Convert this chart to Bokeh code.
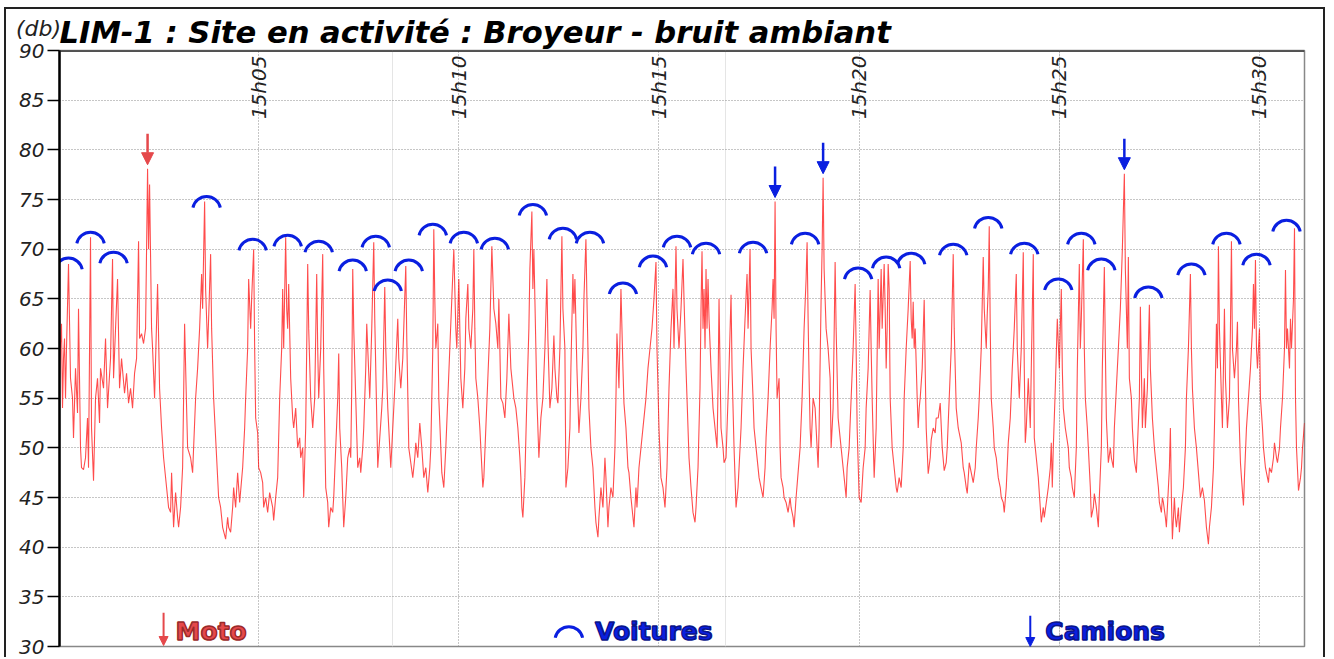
from math import radians, pi
from bokeh.plotting import figure
from bokeh.layouts import column
from bokeh.models import (Range1d, FixedTicker, Grid, Span, Arrow, NormalHead,
                          ColumnDataSource, Div)
from bokeh.core.properties import value
from bokeh.embed import file_html
from bokeh.resources import INLINE

# ---------------- data ----------------
TITLE = "LIM-1 : Site en activité : Broyeur - bruit ambiant"
UNIT = "(db)"
tick_sec = [300, 600, 900, 1200, 1500, 1800]          # seconds after 15h00
tick_labels = ["15h05", "15h10", "15h15", "15h20", "15h25", "15h30"]
y_ticks = [30, 35, 40, 45, 50, 55, 60, 65, 70, 75, 80, 85, 90]

# sound level trace (seconds after 15h00, dB)
t_sec = [
    1.5, 3, 4.5, 6, 7.5, 9, 10.5, 12, 15, 18,
    21, 22.5, 25.5, 28.5, 30, 33, 34.5, 37.5, 40.5, 43.5,
    45, 48, 49.5, 52.5, 55.5, 58.5, 61.5, 63, 67.5, 70.5,
    73.5, 78, 81, 82.5, 85.5, 88.5, 91.5, 94.5, 99, 102,
    105, 108, 111, 114, 117, 120, 121.5, 124.5, 127.5, 130.5,
    133.5, 135, 136.5, 139.5, 141, 144, 148.5, 151.5, 154.5, 157.5,
    162, 165, 168, 169.5, 172.5, 175.5, 178.5, 180, 183, 186,
    187.5, 189, 192, 193.5, 198, 201, 205.5, 208.5, 211.5, 214.5,
    216, 219, 220.5, 223.5, 225, 228, 229.5, 232.5, 237, 240,
    243, 246, 250.5, 253.5, 255, 258, 261, 262.5, 265.5, 268.5,
    271.5, 276, 279, 280.5, 283.5, 285, 288, 289.5, 292.5, 294,
    295.5, 298.5, 300, 303, 306, 307.5, 310.5, 313.5, 316.5, 321,
    322.5, 325.5, 328.5, 331.5, 334.5, 336, 337.5, 340.5, 342, 343.5,
    345, 348, 351, 352.5, 355.5, 358.5, 361.5, 363, 366, 367.5,
    370.5, 372, 373.5, 375, 378, 381, 384, 387, 388.5, 390,
    393, 396, 397.5, 400.5, 403.5, 405, 408, 411, 412.5, 415.5,
    418.5, 420, 421.5, 424.5, 427.5, 430.5, 433.5, 436.5, 438, 439.5,
    441, 442.5, 445.5, 448.5, 451.5, 453, 456, 457.5, 460.5, 462,
    463.5, 466.5, 469.5, 472.5, 474, 475.5, 478.5, 481.5, 484.5, 486,
    489, 490.5, 493.5, 496.5, 498, 501, 504, 508.5, 510, 513,
    516, 520.5, 522, 525, 528, 531, 534, 535.5, 538.5, 541.5,
    544.5, 547.5, 550.5, 553.5, 556.5, 558, 559.5, 561, 562.5, 564,
    565.5, 568.5, 570, 573, 574.5, 577.5, 580.5, 583.5, 586.5, 589.5,
    592.5, 595.5, 597, 600, 603, 606, 609, 610.5, 613.5, 615,
    618, 621, 622.5, 624, 625.5, 628.5, 631.5, 634.5, 636, 637.5,
    640.5, 643.5, 646.5, 649.5, 652.5, 655.5, 658.5, 660, 663, 666,
    669, 672, 675, 678, 682.5, 685.5, 688.5, 691.5, 693, 694.5,
    696, 699, 702, 705, 706.5, 709.5, 711, 712.5, 715.5, 717,
    720, 723, 726, 729, 732, 733.5, 736.5, 739.5, 742.5, 744,
    747, 748.5, 751.5, 754.5, 756, 759, 760.5, 763.5, 766.5, 768,
    771, 772.5, 774, 777, 780, 783, 786, 787.5, 790.5, 792,
    793.5, 795, 798, 801, 804, 805.5, 808.5, 810, 813, 816,
    819, 820.5, 823.5, 825, 828, 831, 834, 835.5, 837, 840,
    843, 844.5, 846, 847.5, 850.5, 853.5, 855, 858, 859.5, 862.5,
    865.5, 867, 870, 873, 876, 879, 880.5, 883.5, 886.5, 889.5,
    892.5, 895.5, 897, 900, 903, 906, 909, 912, 915, 918,
    921, 922.5, 925.5, 927, 930, 933, 936, 937.5, 940.5, 942,
    945, 948, 951, 954, 955.5, 958.5, 961.5, 963, 964.5, 966,
    967.5, 969, 970.5, 972, 973.5, 975, 978, 981, 984, 987,
    988.5, 990, 991.5, 993, 996, 997.5, 1000.5, 1002, 1005, 1008,
    1009.5, 1012.5, 1015.5, 1018.5, 1020, 1023, 1026, 1029, 1032, 1033.5,
    1036.5, 1038, 1041, 1042.5, 1045.5, 1050, 1053, 1056, 1059, 1060.5,
    1063.5, 1066.5, 1069.5, 1071, 1072.5, 1074, 1075.5, 1077, 1080, 1081.5,
    1083, 1086, 1087.5, 1090.5, 1093.5, 1096.5, 1098, 1101, 1102.5, 1105.5,
    1108.5, 1111.5, 1114.5, 1117.5, 1120.5, 1122, 1123.5, 1125, 1126.5, 1128,
    1131, 1134, 1137, 1138.5, 1140, 1143, 1144.5, 1146, 1147.5, 1150.5,
    1153.5, 1156.5, 1158, 1161, 1164, 1165.5, 1168.5, 1171.5, 1173, 1176,
    1179, 1180.5, 1182, 1185, 1188, 1191, 1194, 1195.5, 1197, 1200,
    1203, 1206, 1209, 1210.5, 1213.5, 1216.5, 1218, 1219.5, 1222.5, 1225.5,
    1228.5, 1230, 1233, 1234.5, 1237.5, 1239, 1240.5, 1242, 1243.5, 1245,
    1246.5, 1249.5, 1252.5, 1255.5, 1257, 1260, 1263, 1266, 1267.5, 1270.5,
    1273.5, 1276.5, 1278, 1279.5, 1281, 1282.5, 1284, 1287, 1288.5, 1290,
    1291.5, 1294.5, 1297.5, 1299, 1300.5, 1303.5, 1306.5, 1308, 1311, 1314,
    1315.5, 1318.5, 1321.5, 1324.5, 1327.5, 1330.5, 1332, 1335, 1338, 1341,
    1342.5, 1344, 1345.5, 1348.5, 1353, 1356, 1357.5, 1360.5, 1362, 1365,
    1368, 1371, 1374, 1375.5, 1378.5, 1380, 1383, 1386, 1387.5, 1390.5,
    1392, 1393.5, 1395, 1396.5, 1398, 1401, 1402.5, 1405.5, 1408.5, 1411.5,
    1413, 1416, 1417.5, 1420.5, 1423.5, 1426.5, 1429.5, 1432.5, 1435.5, 1437,
    1440, 1443, 1446, 1447.5, 1449, 1450.5, 1453.5, 1456.5, 1458, 1461,
    1462.5, 1465.5, 1468.5, 1471.5, 1473, 1476, 1477.5, 1480.5, 1483.5, 1486.5,
    1488, 1489.5, 1491, 1494, 1497, 1500, 1503, 1504.5, 1506, 1509,
    1513.5, 1515, 1518, 1519.5, 1522.5, 1525.5, 1527, 1530, 1531.5, 1533,
    1536, 1537.5, 1539, 1542, 1543.5, 1546.5, 1548, 1551, 1552.5, 1555.5,
    1558.5, 1560, 1563, 1564.5, 1567.5, 1569, 1570.5, 1573.5, 1576.5, 1578,
    1581, 1582.5, 1585.5, 1588.5, 1591.5, 1594.5, 1597.5, 1599, 1602, 1603.5,
    1605, 1608, 1609.5, 1612.5, 1615.5, 1617, 1620, 1621.5, 1623, 1624.5,
    1627.5, 1629, 1632, 1635, 1636.5, 1639.5, 1642.5, 1645.5, 1648.5, 1650,
    1653, 1654.5, 1656, 1659, 1660.5, 1662, 1665, 1666.5, 1668, 1669.5,
    1672.5, 1674, 1675.5, 1678.5, 1680, 1683, 1686, 1689, 1690.5, 1693.5,
    1696.5, 1698, 1699.5, 1702.5, 1705.5, 1708.5, 1711.5, 1714.5, 1717.5, 1720.5,
    1723.5, 1725, 1728, 1731, 1732.5, 1734, 1735.5, 1737, 1738.5, 1740,
    1743, 1744.5, 1747.5, 1749, 1752, 1755, 1756.5, 1758, 1759.5, 1762.5,
    1765.5, 1767, 1768.5, 1771.5, 1773, 1776, 1777.5, 1780.5, 1783.5, 1786.5,
    1789.5, 1791, 1792.5, 1794, 1795.5, 1797, 1798.5, 1800, 1801.5, 1804.5,
    1806, 1809, 1812, 1813.5, 1815, 1818, 1821, 1822.5, 1825.5, 1827,
    1830, 1831.5, 1834.5, 1837.5, 1839, 1840.5, 1842, 1845, 1846.5, 1848,
    1851, 1852.5, 1854, 1855.5, 1858.5, 1861.5, 1863, 1864.5, 1867.5,
]
db = [
    57, 60.5, 62.5, 54, 59, 61, 55, 60, 68.5, 57,
    55, 51, 58, 53.5, 64, 50, 48, 47.8, 49, 53,
    48, 71.2, 52, 46.7, 55, 57, 52.5, 58, 56, 61,
    54, 59, 69, 57, 62, 67, 56, 59, 55.5, 57.5,
    54.5, 56, 54, 57.5, 59, 70.8, 61, 61.5, 60.5, 62,
    78.1, 70, 76.5, 62, 60, 55, 66.5, 56, 52, 49,
    46, 44, 43.5, 47.5, 42, 45.5, 43, 42, 44, 48,
    55, 62.5, 54, 50, 49, 47.5, 55, 58, 62, 67.5,
    64, 74.8, 66, 60, 63, 69.5, 62, 55, 49, 45,
    44, 42, 40.8, 43, 42, 41.5, 44, 46, 44, 47.5,
    44.5, 48, 52, 55, 60, 67, 62, 65, 70, 60,
    53, 51.5, 48, 47.5, 46.5, 44, 45, 43.5, 45.5, 44,
    42.7, 45, 47, 55, 60, 66, 60, 71.2, 64, 62,
    66.5, 57, 53, 52, 54, 50, 51, 49, 50, 45,
    52, 60, 68.5, 62, 55, 52, 55, 67.5, 60, 55,
    60, 69.5, 58, 46, 44.5, 42, 44, 43.5, 45, 50,
    55, 59.5, 52, 48, 42, 45, 49, 50, 49, 56,
    68, 62, 55, 48, 49, 47.5, 50, 52, 58, 62.5,
    60, 55, 62, 70.7, 63, 58, 48, 51, 54, 56,
    66.2, 60, 54, 50, 48, 52, 56, 63, 59, 56,
    59, 68.3, 61, 50, 48.5, 47, 49, 50.5, 49, 52.5,
    50, 47, 48, 45.5, 48, 50, 55, 60, 72, 65,
    60, 62.5, 55, 50, 47.5, 46, 50, 55, 60, 65,
    70, 62, 60, 67, 57, 54, 58, 63, 66.5, 62,
    60, 64, 70, 62, 57, 55, 52, 48, 46, 47,
    52, 57, 62, 70.3, 64, 62.5, 60, 65, 55, 54.5,
    53, 57, 63.5, 58, 55, 54, 52, 49, 47, 44,
    43, 47, 55, 62, 68, 73.8, 66, 70, 60, 55,
    49, 53, 55, 60, 67, 61, 54, 56, 61.3, 58,
    55, 54.5, 60, 71.3, 64, 60, 46, 48, 52, 58,
    67.5, 63.5, 67, 58, 51.5, 55, 60, 65, 71, 65,
    60, 54, 50, 48, 44, 42.5, 41, 43, 46, 44,
    49, 47, 42, 44, 46, 45, 50, 55, 61.5, 56,
    66, 62, 58, 54.5, 52, 48, 47.5, 45, 44, 42,
    46, 44, 48, 50, 52, 54, 55, 58, 60, 62,
    65, 68.7, 60, 52, 47, 46, 44, 48, 56, 62,
    66, 60, 70.3, 64, 60, 64, 69, 65, 58, 55,
    49, 46, 43.5, 42.5, 44, 48, 56, 64, 69.8, 62,
    66, 60, 68, 62, 67, 63, 58, 54, 52, 50,
    56, 65, 58, 52, 50, 48.5, 49, 52, 58, 65.4,
    58, 50, 44, 46, 48, 52, 58, 63, 67.5, 62,
    70, 60, 55, 52, 50, 47, 46, 45, 48, 51,
    55, 60, 64, 67, 63, 74.8, 62, 55, 57, 50,
    47, 46, 45, 44.5, 43.5, 45, 44, 43, 42, 45,
    47.5, 50, 55, 62, 67, 70.7, 63, 57, 52, 50,
    55, 54, 50, 48, 52, 65, 70, 77.2, 68, 62,
    60, 57, 50, 54, 68.7, 62, 53, 51, 50, 48,
    46, 45, 48, 50, 55, 60, 66.5, 60, 52, 45,
    44.5, 48, 50, 54, 58, 65.9, 60, 55, 47, 52,
    67, 60, 68, 62, 68.5, 64, 58, 62, 68.5, 66,
    55, 50, 48, 46, 45.5, 47, 46, 50, 55, 60,
    64, 68.8, 63, 61, 64.7, 60, 62, 55, 52, 54,
    55, 58, 64.9, 58, 52, 47.4, 49, 50.8, 52, 51.5,
    53, 53, 54.5, 50, 47.7, 48.5, 50, 55, 60, 69.5,
    62, 58, 54, 52, 50.5, 48, 47.5, 46, 45.4, 48.5,
    47.5, 46.5, 48, 50, 53, 55, 60, 69.2, 64, 60,
    63.5, 66, 72.3, 62, 55, 52, 50, 49, 47, 46,
    45, 44.5, 43.5, 46, 50.5, 53, 58, 62, 67.5, 60,
    55, 60, 69.7, 58, 50.5, 52, 57, 52, 58, 69.5,
    51, 49, 47, 44, 42.5, 44, 43, 44.5, 46, 48,
    50.5, 46, 50, 56, 63, 58, 66, 58, 54, 52,
    50, 48, 47, 46, 45, 50, 58, 68.5, 60, 63,
    71, 60, 55, 52, 50, 46, 43, 44, 45.4, 44,
    42, 45, 50, 58, 68.2, 60, 53, 48.5, 50, 49,
    48, 52, 56, 60, 64, 70, 77.6, 68, 60, 69.2,
    57, 55, 52, 48.7, 47.5, 50, 55, 64.2, 58, 52,
    57, 52, 56, 64.4, 58, 53, 50, 48, 46, 44.5,
    43.5, 45, 44.5, 43, 42, 44, 48, 52, 45, 40.8,
    45, 43, 42, 44, 41.5, 44, 46, 50, 55, 60,
    67.5, 60, 56, 52, 50, 47.5, 45, 46, 44.7, 42,
    40.3, 42, 44, 48, 52, 57, 62.5, 58, 70.3, 62,
    55, 52, 64, 57, 52, 55, 62, 70.8, 60, 57,
    60, 62.7, 55, 48.5, 47, 44.2, 47, 52, 55, 58,
    62, 66.5, 62, 68.9, 60, 58, 60, 62, 55, 52,
    50, 48, 47, 46.5, 48, 47.5, 49, 50.5, 49, 48.5,
    50, 52, 55, 60, 67.9, 60, 62, 58, 63, 60,
    65, 72.1, 55, 50, 45.7, 47, 48, 50, 52.5,
]
assert len(t_sec) == len(db), (len(t_sec), len(db))

# annotated events: cars (arcs), trucks (blue arrows), motorbike (red arrow)
voiture_t = [15, 48, 82.5, 222, 291, 343.5, 390, 441, 475.5, 493.5, 525, 561,
             607.5, 654, 711, 756, 796.5, 846, 891, 927, 970.5, 1041, 1119, 1198.5,
             1240.5, 1278, 1341, 1393.5, 1447.5, 1498.5, 1533, 1563, 1633.5, 1698,
             1750.5, 1795.5, 1840.5]
voiture_db = [69.1, 71.7, 69.7, 75.3, 71.0, 71.4, 70.8, 68.9, 71.3, 66.9, 68.9, 72.5,
              71.7, 71.1, 74.5, 72.1, 71.7, 66.6, 69.3, 71.3, 70.6, 70.7, 71.6, 68.1,
              69.2, 69.6, 70.5, 73.2, 70.6, 67.0, 71.6, 69.0, 66.2, 68.5,
              71.6, 69.5, 72.9]
camion_t = [1074, 1146, 1597.5]
camion_db = [74.8, 77.2, 77.6]
moto_t = [133.5]
moto_db = [78.1]
legend_labels = ["Moto", "Voitures", "Camions"]

# ---------------- styling / layout constants ----------------
RED_LINE = "#ff0000"
BLUE = "#0a1fe0"
MOTO_RED = "#e5484b"
FONT = "DejaVu Sans"
W, H = 1321, 650
MB_L, MB_R, MB_T, MB_B = 53, 23, 41, 13
Y0, Y1 = 30, 90
FRAME_H = H - MB_T - MB_B
DB_PER_PX = (Y1 - Y0) / FRAME_H
ARC_R = 14          # px
ARROW_GAP = 0.4     # dB between peak and arrow tip
ARROW_LEN = 31      # px

p = figure(width=W, height=H, x_range=Range1d(1.5, 1867.5), y_range=Range1d(Y0, Y1),
           x_axis_location=None, output_backend="svg", toolbar_location=None,
           min_border_left=MB_L, min_border_right=MB_R,
           min_border_top=MB_T, min_border_bottom=MB_B,
           background_fill_color="white", border_fill_color="white",
           styles={"margin-left": "4px", "margin-top": "7px",
                   "border-top": "2px solid #222", "border-left": "2px solid #222",
                   "border-right": "2px solid #222"})

p.title.text = TITLE
p.title.text_font = FONT
p.title.text_font_size = "30.6px"
p.title.text_font_style = "bold italic"
p.title.text_color = "black"
p.title.align = "left"
p.title.standoff = 2

p.outline_line_color = "#888888"
p.outline_line_width = 1.5

# y axis
ax = p.yaxis[0]
ax.ticker = FixedTicker(ticks=y_ticks)
ax.major_label_text_font = FONT
ax.major_label_text_font_style = "italic"
ax.major_label_text_font_size = "20px"
ax.major_label_text_color = "#222222"
ax.major_tick_out = 12
ax.major_tick_in = 0
ax.major_tick_line_width = 1.5
ax.major_tick_line_color = "black"
ax.minor_tick_out = 0
ax.minor_tick_in = 0
ax.axis_line_width = 2.5
ax.axis_line_color = "black"
ax.major_label_standoff = 3

p.ygrid.ticker = FixedTicker(ticks=y_ticks)
p.ygrid.grid_line_color = "#8c8c8c"
p.ygrid.grid_line_dash = "1 2"
p.ygrid.grid_line_width = 1

xgrid = Grid(dimension=0, ticker=FixedTicker(ticks=tick_sec),
             grid_line_color="#8c8c8c", grid_line_dash="1 2", grid_line_width=1)
p.add_layout(xgrid)

p.add_layout(Span(location=Y1, dimension="width", line_color="#222222", line_width=2.5))

# trace
p.line(t_sec, db, line_color=RED_LINE, line_alpha=0.7, line_width=1.1)

# time labels (rotated, inside the plot, top)
p.text(x=tick_sec, y=[Y1 - 5 * DB_PER_PX] * len(tick_sec), text=tick_labels,
       angle=pi / 2, text_align="right", text_baseline="middle",
       text_font=value(FONT), text_font_style="italic", text_font_size="20px",
       text_color="#222222")

# car arcs
p.arc(x=voiture_t, y=[v - ARC_R * DB_PER_PX for v in voiture_db], radius=ARC_R,
      radius_units="screen", start_angle=radians(12), end_angle=radians(168),
      line_color=BLUE, line_width=3)

# truck arrows
cam_src = ColumnDataSource(dict(
    x0=camion_t, x1=camion_t,
    y0=[v + ARROW_GAP + ARROW_LEN * DB_PER_PX for v in camion_db],
    y1=[v + ARROW_GAP for v in camion_db]))
p.add_layout(Arrow(end=NormalHead(size=12, fill_color=BLUE, line_color=BLUE),
                   x_start="x0", y_start="y0", x_end="x1", y_end="y1",
                   source=cam_src, line_color=BLUE, line_width=2.5))

# moto arrow
moto_src = ColumnDataSource(dict(
    x0=moto_t, x1=moto_t,
    y0=[v + ARROW_GAP + ARROW_LEN * DB_PER_PX for v in moto_db],
    y1=[v + ARROW_GAP for v in moto_db]))
p.add_layout(Arrow(end=NormalHead(size=12, fill_color=MOTO_RED, line_color=MOTO_RED),
                   x_start="x0", y_start="y0", x_end="x1", y_end="y1",
                   source=moto_src, line_color=MOTO_RED, line_width=2.5))

# ---------------- bottom legend ----------------
LEG_Y = 31.5
p.add_layout(Arrow(end=NormalHead(size=9, fill_color=MOTO_RED, line_color=MOTO_RED),
                   x_start=157.5, y_start=LEG_Y + 1.9, x_end=157.5, y_end=LEG_Y - 1.4,
                   line_color=MOTO_RED, line_width=2))
p.add_layout(Arrow(end=NormalHead(size=9, fill_color=BLUE, line_color=BLUE),
                   x_start=1456.5, y_start=LEG_Y + 1.6, x_end=1456.5, y_end=LEG_Y - 1.5,
                   line_color=BLUE, line_width=2))
p.arc(x=[765], y=[LEG_Y + 0.5 - ARC_R * DB_PER_PX], radius=ARC_R, radius_units="screen",
      start_angle=radians(12), end_angle=radians(168), line_color=BLUE, line_width=3)
p.text(x=[175.5, 804, 1479], y=[LEG_Y] * 3, text=legend_labels,
       text_color=[MOTO_RED, BLUE, BLUE], text_align="left", text_baseline="middle",
       text_font=value(FONT), text_font_style="bold", text_font_size="25px",
       text_outline_color=["#9a2a2a", "#0a148a", "#0a148a"])

# unit text above the y axis
unit_div = Div(text=UNIT, styles={"position": "absolute", "left": "11px", "top": "13px",
                                  "font-family": "DejaVu Sans", "font-style": "italic",
                                  "font-size": "22px", "color": "#222222",
                                  "z-index": "10", "line-height": "1"})

layout = column(p, unit_div)
open("out.html", "w").write(file_html(layout, INLINE))
